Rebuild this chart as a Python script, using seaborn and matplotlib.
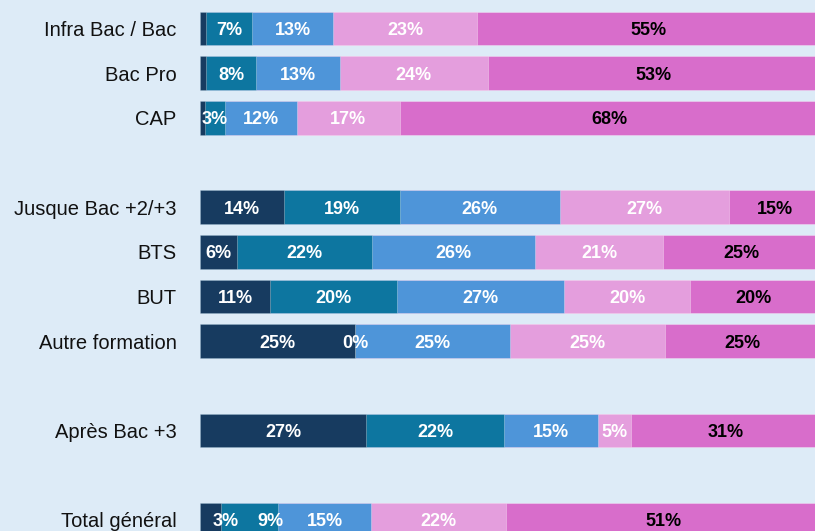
import matplotlib
matplotlib.use("Agg")
import matplotlib.pyplot as plt
import numpy as np
import pandas as pd
import seaborn as sns

# ---------------- data ----------------
categories = ["Infra Bac / Bac", "Bac Pro", "CAP",
              "Jusque Bac +2/+3", "BTS", "BUT", "Autre formation",
              "Après Bac +3", "Total général"]
# slot order (blank strings create the visual gaps between groups)
slot_order = ["Infra Bac / Bac", "Bac Pro", "CAP", " ",
              "Jusque Bac +2/+3", "BTS", "BUT", "Autre formation", "  ",
              "Après Bac +3", "   ", "Total général"]

seg1 = [1.0, 1.0, 0.8, 13.6, 5.9, 11.3, 25.0, 26.8, 3.4]
seg2 = [7.4, 8.1, 3.2, 18.6, 21.8, 20.4, 0.0, 22.2, 9.2]
seg3 = [13.1, 13.4, 11.6, 25.8, 26.4, 27.0, 25.0, 15.2, 15.0]
seg4 = [23.2, 24.0, 16.6, 27.4, 20.6, 20.4, 25.0, 5.3, 21.8]
seg5 = [55.3, 53.4, 67.8, 14.6, 25.3, 20.4, 25.0, 30.6, 50.6]

series = [seg1, seg2, seg3, seg4, seg5]
colors = ["#173B60", "#0D76A0", "#4E95D9", "#E49EDD", "#D86DCB"]
label_colors = ["white", "white", "white", "white", "black"]
# manual label shifts (in % units) as seen in the reference
label_nudge = {("Total général", 0): 2.5, ("Total général", 1): 3.3}

bg = "#DDEBF7"

# ---------------- figure ----------------
sns.set_theme(style="white")
plt.rcParams["font.family"] = ["Liberation Sans", "DejaVu Sans"]

fig = plt.figure(figsize=(8.15, 5.31), dpi=100, facecolor=bg)
ax = fig.add_axes([200 / 815, -11 / 531, 620 / 815, 535.8 / 531])
ax.set_facecolor(bg)

df = pd.DataFrame({"category": categories})
cum = np.cumsum(np.array(series), axis=0)
for k in range(len(series)):
    df[f"cum{k}"] = cum[k]

# draw cumulative bars from the longest to the shortest
for k in reversed(range(len(series))):
    sns.barplot(data=df, x=f"cum{k}", y="category", order=slot_order,
                color=colors[k], saturation=1, width=0.75, errorbar=None,
                orient="h", ax=ax, edgecolor=(1, 1, 1, 0.35), linewidth=0.6)

# data labels
for i, cat in enumerate(categories):
    ypos = slot_order.index(cat)
    left = 0.0
    for k, s in enumerate(series):
        v = s[i]
        if not (0 < v < 2):
            xc = left + v / 2 + label_nudge.get((cat, k), 0.0)
            ax.text(xc, ypos, f"{v:.0f}%", ha="center", va="center_baseline",
                    color=label_colors[k], fontsize=13, fontweight="bold")
        left += v

ax.set_xlim(0, 100)
ax.set_ylim(len(slot_order) - 0.5, -0.5)
ax.set_xlabel("")
ax.set_ylabel("")
ax.set_xticks([])
ax.tick_params(axis="y", length=0, pad=17, labelsize=14.5, labelcolor="#111111")
for sp in ax.spines.values():
    sp.set_visible(False)

fig.savefig("out.png", dpi=100, facecolor=bg)
